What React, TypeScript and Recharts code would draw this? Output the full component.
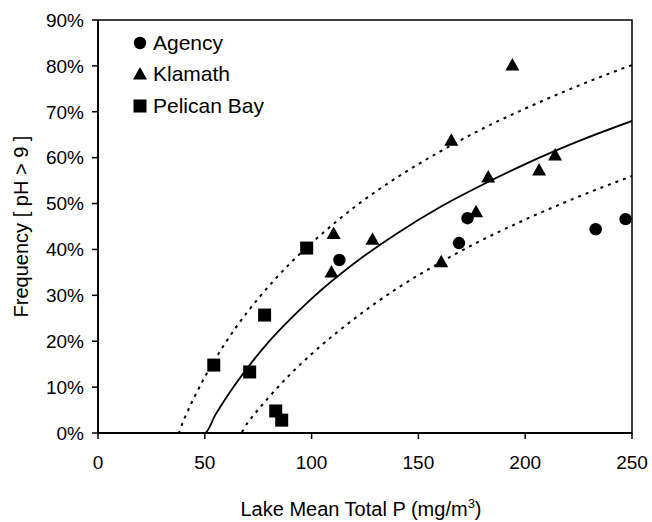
import React from 'react';
import { ComposedChart, Line, Scatter, XAxis, YAxis, ReferenceArea, Label } from 'recharts';

// observed points (x = lake mean TP mg/m3, y = % of time pH > 9)
const agency = [
    { x: 113, y: 37.7 }, { x: 169, y: 41.4 }, { x: 173, y: 46.8 }, { x: 233, y: 44.4 }, { x: 247, y: 46.6 },
];
const klamath = [
    { x: 109.3, y: 35.1 }, { x: 110.3, y: 43.5 }, { x: 128.5, y: 42.2 }, { x: 160.7, y: 37.3 }, { x: 165.4, y: 63.8 },
    { x: 177, y: 48.2 }, { x: 182.7, y: 55.8 }, { x: 194, y: 80.2 }, { x: 206.5, y: 57.3 }, { x: 214, y: 60.6 },
];
const pelican = [
    { x: 54.2, y: 14.8 }, { x: 71, y: 13.3 }, { x: 78, y: 25.7 }, { x: 83.2, y: 4.8 }, { x: 86, y: 2.8 }, { x: 97.7, y: 40.3 },
];

// fitted curve + bounds
const fitLine = [
    { x: 0, y: 0 }, { x: 50, y: 0 }, { x: 55, y: 4.0 }, { x: 60, y: 7.7 }, { x: 70, y: 14.2 }, { x: 80, y: 19.9 },
    { x: 90, y: 24.8 }, { x: 100, y: 29.3 }, { x: 120, y: 37.0 }, { x: 140, y: 43.5 }, { x: 160, y: 49.2 },
    { x: 180, y: 54.1 }, { x: 200, y: 58.6 }, { x: 225, y: 63.6 }, { x: 250, y: 68.0 },
];
const upperLine = [
    { x: 0, y: 0 }, { x: 37.5, y: 0 }, { x: 40, y: 2.7 }, { x: 45, y: 7.7 }, { x: 50, y: 12.2 }, { x: 60, y: 19.9 },
    { x: 70, y: 26.4 }, { x: 80, y: 32.0 }, { x: 90, y: 37.0 }, { x: 100, y: 41.4 }, { x: 120, y: 49.2 },
    { x: 140, y: 55.7 }, { x: 160, y: 61.3 }, { x: 180, y: 66.3 }, { x: 200, y: 70.7 }, { x: 225, y: 75.7 }, { x: 250, y: 80.2 },
];
const lowerLine = [
    { x: 0, y: 0 }, { x: 66.5, y: 0 }, { x: 70, y: 2.2 }, { x: 80, y: 7.8 }, { x: 90, y: 12.8 }, { x: 100, y: 17.2 },
    { x: 120, y: 24.9 }, { x: 140, y: 31.5 }, { x: 160, y: 37.1 }, { x: 180, y: 42.1 }, { x: 200, y: 46.5 },
    { x: 225, y: 51.5 }, { x: 250, y: 56.0 },
];

const xTicks = [0, 50, 100, 150, 200, 250];
const yTicks = [0, 10, 20, 30, 40, 50, 60, 70, 80, 90];
const legendItems = [
    { name: "Agency", shape: "circle" },
    { name: "Klamath", shape: "triangle" },
    { name: "Pelican Bay", shape: "square" },
];

const FONT = '"Liberation Sans", Arial, sans-serif';

const Marker = ({ cx, cy, kind }: any) => {
    if (kind === "circle") return <circle cx={cx} cy={cy} r={6.2} fill="#000" />;
    if (kind === "triangle") return <polygon points={`${cx},${cy - 7} ${cx - 7},${cy + 5.5} ${cx + 7},${cy + 5.5}`} fill="#000" />;
    return <rect x={cx - 6.5} y={cy - 6.5} width={13} height={13} fill="#000" />;
};

// legend drawn as an overlay so it takes no room from the plot
const LegendBox = () => (
    <div style={{ position: "absolute", left: 133, top: 27, fontFamily: FONT, fontSize: 21, color: "#000" }}>
        {legendItems.map(it => (
            <div key={it.name} style={{ display: "flex", alignItems: "center", height: 31.5 }}>
                <svg width={14} height={14} style={{ marginRight: 6 }}>
                    <Marker cx={7} cy={7} kind={it.shape} />
                </svg>
                <span>{it.name}</span>
            </div>
        ))}
    </div>
);

const XTitle = ({ viewBox }: any) => {
    const cx = viewBox.x + viewBox.width / 2;
    return (
        <text x={cx - 4} y={viewBox.y + 83} textAnchor="middle" fontFamily={FONT} fontSize={20} fill="#000">
            Lake Mean Total P (mg/m<tspan dy={-8} fontSize={13}>3</tspan><tspan dy={8}>)</tspan>
        </text>
    );
};

const YTitle = ({ viewBox }: any) => {
    const cy = viewBox.y + viewBox.height / 2;
    return (
        <text x={21} y={cy} transform={`rotate(-90 21 ${cy})`} textAnchor="middle" dominantBaseline="central"
            fontFamily={FONT} fontSize={20} fill="#000">
            Frequency [ pH &gt; 9 ]
        </text>
    );
};

export default function App() {
    const tickStyle = { fill: "#000", fontSize: 19, fontFamily: FONT };
    return (
        <div style={{ position: "absolute", left: 0, top: 0, width: 652, height: 522, background: "#fff" }}>
            <ComposedChart width={652} height={522} margin={{ top: 20, right: 20, bottom: 0, left: 38 }}>
                <XAxis type="number" dataKey="x" domain={[0, 250]} ticks={xTicks} allowDataOverflow
                    tick={tickStyle} tickSize={6} tickMargin={17} height={89}
                    axisLine={{ stroke: "#000", strokeWidth: 1.8 }} tickLine={{ stroke: "#000", strokeWidth: 1.5 }}>
                    <Label content={<XTitle />} />
                </XAxis>
                <YAxis type="number" dataKey="y" domain={[0, 90]} ticks={yTicks} allowDataOverflow
                    tickFormatter={(v: number) => `${v}%`} tick={tickStyle} tickSize={6} tickMargin={8} width={60}
                    axisLine={{ stroke: "#000", strokeWidth: 1.8 }} tickLine={{ stroke: "#000", strokeWidth: 1.5 }}>
                    <Label content={<YTitle />} />
                </YAxis>
                <ReferenceArea x1={0} x2={250} y1={0} y2={90} fill="none" stroke="#000" strokeWidth={1.5} />
                <Line data={upperLine} dataKey="y" type="monotone" stroke="#000" strokeWidth={2} strokeDasharray="3 5"
                    dot={false} legendType="none" isAnimationActive={false} />
                <Line data={lowerLine} dataKey="y" type="monotone" stroke="#000" strokeWidth={2} strokeDasharray="3 5"
                    dot={false} legendType="none" isAnimationActive={false} />
                <Line data={fitLine} dataKey="y" type="monotone" stroke="#000" strokeWidth={1.8}
                    dot={false} legendType="none" isAnimationActive={false} />
                <Scatter name="Agency" data={agency} dataKey="y" isAnimationActive={false}
                    shape={(p: any) => <Marker cx={p.cx} cy={p.cy} kind="circle" />} />
                <Scatter name="Klamath" data={klamath} dataKey="y" isAnimationActive={false}
                    shape={(p: any) => <Marker cx={p.cx} cy={p.cy} kind="triangle" />} />
                <Scatter name="Pelican Bay" data={pelican} dataKey="y" isAnimationActive={false}
                    shape={(p: any) => <Marker cx={p.cx} cy={p.cy} kind="square" />} />
            </ComposedChart>
            <LegendBox />
        </div>
    );
}
